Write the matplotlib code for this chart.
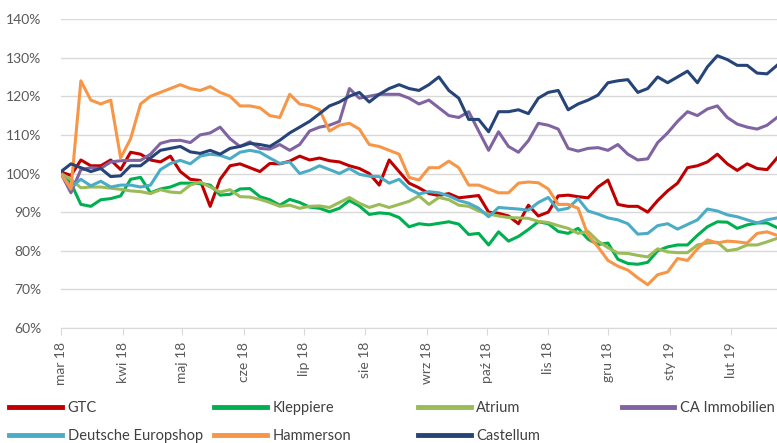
import pandas as pd
import matplotlib
matplotlib.use("Agg")
import matplotlib.pyplot as plt

plt.rcParams['font.family'] = ['Lato', 'DejaVu Sans']

# sampled every 5 days, 2018-03-01 .. 2019-02-24
dates = pd.date_range("2018-03-01", periods=73, freq="5D")

gtc = [100.4, 99.5, 103.5, 102, 102, 103.5, 101, 105.5, 105, 103.5, 103, 104.5, 100.5,
       98.5, 98.2, 91.5, 98.5, 102, 102.5, 101.5, 100.5, 102.6, 102.5, 103.2, 104.5,
       103.5, 104, 103.3, 103, 102, 101.3, 100, 97, 103.5, 100.5, 97.5, 96.3,
       94.8, 94.3, 94.8, 93.7, 94, 94.3, 90, 89.7, 89, 87, 91.8, 89,
       90, 94.2, 94.4, 94, 93.7, 96.5, 98.3, 92, 91.5, 91.5, 90, 93,
       95.5, 97.5, 101.5, 102, 103, 105, 102.5, 100.8, 102.5, 101.3, 101, 104]
kleppiere = [100, 97.5, 92, 91.5, 93.2, 93.5, 94.2, 98.5, 99, 95, 96, 96.5, 97.5,
             97.5, 97.4, 97, 94.4, 94.6, 96, 96.1, 94, 93.2, 91.8, 93.3, 92.5,
             91.3, 91, 90.1, 91, 93, 91.6, 89.4, 89.8, 89.6, 88.6, 86.2, 87,
             86.7, 87.1, 87.5, 86.9, 84.2, 84.5, 81.5, 84.9, 82.5, 83.7, 85.5, 87.5,
             87, 85, 84.5, 85.8, 83, 81.6, 82, 77.8, 76.7, 76.5, 77, 80,
             81, 81.5, 81.5, 84, 86.2, 87.5, 87.4, 85.8, 86.7, 87.2, 87.2, 86]
atrium = [100, 98.5, 96.3, 96.5, 96.5, 96.2, 95.9, 95.5, 95.3, 94.8, 95.8, 95.2, 95,
          97, 97.8, 96.5, 95.2, 95.8, 94, 93.9, 93.3, 92.5, 91.5, 91.8, 91,
          91.5, 91.6, 91.2, 92.5, 93.8, 92.3, 91.2, 92, 91.2, 92, 92.8, 94.2,
          92, 93.8, 93.2, 91.8, 91.5, 90.3, 89.5, 89, 88.6, 88.5, 88.4, 87.6,
          87.3, 86.5, 85.8, 84.5, 85, 82.5, 80.8, 79.4, 79.3, 78.8, 78.4, 80.5,
          79.7, 79.5, 79.5, 81.5, 82, 82.2, 80, 80.4, 81.5, 81.5, 82.3, 83.2]
ca_immo = [100, 95, 101, 101.5, 101.3, 103, 103.3, 103.4, 103.4, 105, 107.8, 108.5, 108.6,
           108, 110, 110.5, 112, 109, 107, 108.2, 106.5, 106.3, 107.5, 106, 107.5,
           111, 112, 112.5, 113.5, 122, 119.5, 120, 120.5, 120.5, 120.5, 119.5, 118,
           119, 117, 115, 114.5, 116, 111, 106, 110.8, 107, 105.5, 108.5, 113,
           112.5, 111.5, 106.5, 105.8, 106.5, 106.7, 106, 107.5, 105, 103.5, 103.8, 108,
           110.5, 113.5, 116, 115, 116.7, 117.5, 114.5, 112.8, 112, 111.5, 112.5, 114.5]
deutsche = [100, 96.5, 98.5, 96.8, 98, 96.5, 97, 97, 96.5, 97, 101, 102.6, 103.4,
            102.5, 104.5, 105, 104.7, 103.8, 105.5, 106, 105.5, 104, 102.6, 103, 100,
            100.8, 102, 101, 100, 101.3, 99.8, 99.3, 99.2, 97.5, 98.5, 96, 94.7,
            95.3, 95, 94.2, 93, 92.3, 91, 88.8, 91.2, 91, 90.8, 90.5, 92.5,
            93.8, 90.5, 91, 93.5, 90.3, 89.5, 88.5, 88, 87, 84.3, 84.5, 86.5,
            87, 85.6, 86.8, 88, 90.8, 90.3, 89.3, 88.8, 88, 87.2, 88, 88.5]
hammerson = [100, 96, 124, 119, 118, 119, 104, 109, 118, 120, 121, 122, 123,
             122, 121.5, 122.5, 121, 120, 117.5, 117.5, 117, 115, 114.5, 120.5, 118,
             117.5, 116.5, 111, 112.5, 113, 111.5, 107.5, 107, 106, 105, 99, 98.3,
             101.5, 101.5, 103.2, 101.5, 97, 97, 96, 95, 95, 97.5, 97.8, 97.6,
             96, 92, 92, 91, 84, 81, 77.5, 76, 75, 73, 71.2, 73.8,
             74.5, 78, 77.5, 80.5, 82.8, 82, 82.5, 82.3, 82, 84.5, 84.9, 84]
castellum = [100.5, 102.5, 101.5, 100.5, 101.3, 99.2, 99.4, 102, 102, 104, 106, 106.5, 107,
             105.6, 105.2, 106, 105, 106.5, 107, 107.8, 107.5, 107, 108.6, 110.5, 112,
             113.5, 115.5, 117.5, 118.5, 120, 121, 118.5, 120.5, 122, 123, 122, 121.5,
             123, 125, 121.5, 119.5, 114, 114, 110.8, 116, 116, 116.5, 115.5, 119.5,
             121, 121.5, 116.5, 118, 119, 120.3, 123.5, 124, 124.3, 121, 122, 125,
             123.5, 125, 126.5, 123.5, 127.6, 130.5, 129.5, 128, 128, 126, 125.8, 128]

series = [("GTC", gtc, "#C00000"),
          ("Kleppiere", kleppiere, "#00B050"),
          ("Atrium", atrium, "#9BBB59"),
          ("CA Immobilien", ca_immo, "#8064A2"),
          ("Deutsche Europshop", deutsche, "#4BACC6"),
          ("Hammerson", hammerson, "#F79646"),
          ("Castellum", castellum, "#264478")]

month_ticks = pd.date_range("2018-03-01", "2019-02-01", freq="MS")
month_labels = ["mar 18", "kwi 18", "maj 18", "cze 18", "lip 18", "sie 18",
                "wrz 18", "paź 18", "lis 18", "gru 18", "sty 19", "lut 19"]

fig = plt.figure(figsize=(7.77, 4.43), dpi=100)
ax = fig.add_axes([0.0785, 0.2596, 0.9215, 0.6975])

lines = {}
for name, vals, col in series:
    lines[name], = ax.plot(dates, vals, color=col, lw=2.2, label=name)

ax.set_ylim(60, 140)
ax.set_xlim(dates[0], dates[-1])
ax.set_yticks(range(60, 141, 10))
ax.set_yticklabels([f"{v}%" for v in range(60, 141, 10)])
ax.set_xticks(month_ticks)
ax.set_xticklabels(month_labels, rotation=90)

ax.grid(axis="y", color="#D9D9D9", lw=1)
ax.set_axisbelow(True)
for s in ["top", "right", "left"]:
    ax.spines[s].set_visible(False)
ax.spines["bottom"].set_color("#D9D9D9")
ax.tick_params(axis="y", length=0, pad=14, labelsize=10, labelcolor="#595959")
ax.tick_params(axis="x", length=5, color="#D9D9D9", pad=5, labelsize=10, labelcolor="#595959")

# legend: 4 columns laid out like the Excel original
cols = [(0.012, ["GTC", "Deutsche Europshop"]),
        (0.276, ["Kleppiere", "Hammerson"]),
        (0.538, ["Atrium", "Castellum"]),
        (0.800, ["CA Immobilien"])]
for x, names in cols:
    leg = fig.legend([lines[n] for n in names], names, loc="upper left",
                     bbox_to_anchor=(x, 0.094), frameon=False, fontsize=10.5,
                     handlelength=3.6, handletextpad=0.4, borderpad=0,
                     borderaxespad=0, labelspacing=0.95, labelcolor="#404040")
    for h in leg.legend_handles:
        h.set_linewidth(3.5)

fig.savefig("out.png", dpi=100)
